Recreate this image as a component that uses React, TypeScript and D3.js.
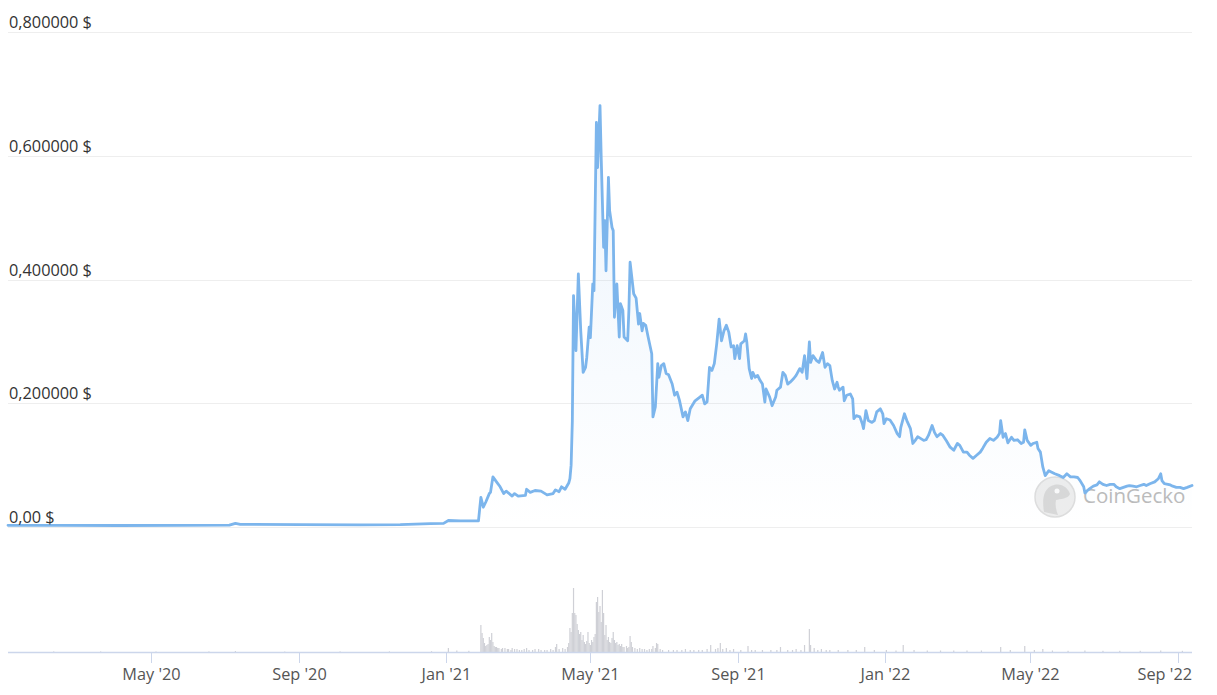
import React from "react";
import * as d3 from "d3";

// ---- Data ----
const priceSeries: [string, number][] = [
  ["2020-01-03", 0.0027], ["2020-02-15", 0.0025], ["2020-04-05", 0.0024], ["2020-05-25", 0.0025],
  ["2020-07-05", 0.0030], ["2020-07-10", 0.0060], ["2020-07-14", 0.0042], ["2020-09-02", 0.0038],
  ["2020-10-22", 0.0035], ["2020-11-24", 0.0040], ["2020-12-19", 0.0055], ["2020-12-30", 0.0058],
  ["2021-01-03", 0.0105], ["2021-01-13", 0.0100], ["2021-01-21", 0.0098], ["2021-01-28", 0.0100],
  ["2021-01-30", 0.048], ["2021-02-01", 0.032], ["2021-02-03", 0.040], ["2021-02-06", 0.054],
  ["2021-02-07", 0.056], ["2021-02-09", 0.081], ["2021-02-12", 0.073], ["2021-02-15", 0.065],
  ["2021-02-18", 0.054], ["2021-02-20", 0.058], ["2021-02-25", 0.050], ["2021-02-27", 0.054],
  ["2021-03-02", 0.050], ["2021-03-08", 0.051], ["2021-03-09", 0.061], ["2021-03-12", 0.056],
  ["2021-03-16", 0.059], ["2021-03-21", 0.058], ["2021-03-26", 0.052], ["2021-03-31", 0.054],
  ["2021-04-02", 0.060], ["2021-04-05", 0.057], ["2021-04-07", 0.065], ["2021-04-10", 0.061],
  ["2021-04-13", 0.071], ["2021-04-14", 0.078], ["2021-04-15", 0.100], ["2021-04-16", 0.170],
  ["2021-04-17", 0.374], ["2021-04-19", 0.285], ["2021-04-21", 0.409], ["2021-04-23", 0.317],
  ["2021-04-25", 0.250], ["2021-04-27", 0.258], ["2021-04-28", 0.274], ["2021-04-30", 0.323],
  ["2021-05-01", 0.306], ["2021-05-03", 0.393], ["2021-05-04", 0.382], ["2021-05-06", 0.654],
  ["2021-05-07", 0.581], ["2021-05-09", 0.681], ["2021-05-10", 0.597], ["2021-05-12", 0.452],
  ["2021-05-13", 0.495], ["2021-05-14", 0.414], ["2021-05-16", 0.565], ["2021-05-17", 0.511],
  ["2021-05-19", 0.484], ["2021-05-20", 0.479], ["2021-05-21", 0.339], ["2021-05-23", 0.393],
  ["2021-05-25", 0.307], ["2021-05-26", 0.361], ["2021-05-28", 0.350], ["2021-05-29", 0.307],
  ["2021-06-01", 0.301], ["2021-06-02", 0.350], ["2021-06-03", 0.428], ["2021-06-06", 0.377],
  ["2021-06-08", 0.370], ["2021-06-10", 0.328], ["2021-06-11", 0.345], ["2021-06-13", 0.317],
  ["2021-06-14", 0.329], ["2021-06-16", 0.326], ["2021-06-18", 0.307], ["2021-06-21", 0.280],
  ["2021-06-22", 0.178], ["2021-06-24", 0.194], ["2021-06-26", 0.264], ["2021-06-27", 0.242],
  ["2021-06-29", 0.261], ["2021-07-01", 0.264], ["2021-07-03", 0.248], ["2021-07-05", 0.246],
  ["2021-07-08", 0.231], ["2021-07-10", 0.213], ["2021-07-12", 0.218], ["2021-07-14", 0.205],
  ["2021-07-17", 0.178], ["2021-07-19", 0.186], ["2021-07-21", 0.172], ["2021-07-23", 0.191],
  ["2021-07-27", 0.204], ["2021-07-31", 0.210], ["2021-08-02", 0.213], ["2021-08-04", 0.199],
  ["2021-08-06", 0.202], ["2021-08-08", 0.258], ["2021-08-10", 0.253], ["2021-08-12", 0.264],
  ["2021-08-14", 0.296], ["2021-08-16", 0.336], ["2021-08-18", 0.301], ["2021-08-20", 0.317],
  ["2021-08-22", 0.326], ["2021-08-24", 0.315], ["2021-08-26", 0.291], ["2021-08-28", 0.293],
  ["2021-08-29", 0.272], ["2021-08-31", 0.293], ["2021-09-02", 0.272], ["2021-09-03", 0.296],
  ["2021-09-06", 0.301], ["2021-09-07", 0.312], ["2021-09-08", 0.299], ["2021-09-10", 0.256],
  ["2021-09-12", 0.240], ["2021-09-13", 0.250], ["2021-09-15", 0.242], ["2021-09-17", 0.245],
  ["2021-09-19", 0.237], ["2021-09-21", 0.231], ["2021-09-23", 0.202], ["2021-09-24", 0.223],
  ["2021-09-27", 0.210], ["2021-09-29", 0.196], ["2021-10-02", 0.210], ["2021-10-03", 0.221],
  ["2021-10-06", 0.226], ["2021-10-08", 0.250], ["2021-10-10", 0.245], ["2021-10-12", 0.231],
  ["2021-10-14", 0.234], ["2021-10-17", 0.240], ["2021-10-19", 0.245], ["2021-10-22", 0.256],
  ["2021-10-24", 0.250], ["2021-10-26", 0.277], ["2021-10-28", 0.240], ["2021-10-30", 0.299],
  ["2021-10-31", 0.266], ["2021-11-02", 0.277], ["2021-11-05", 0.269], ["2021-11-07", 0.266],
  ["2021-11-10", 0.282], ["2021-11-12", 0.258], ["2021-11-14", 0.264], ["2021-11-16", 0.261],
  ["2021-11-18", 0.237], ["2021-11-20", 0.223], ["2021-11-22", 0.234], ["2021-11-23", 0.226],
  ["2021-11-24", 0.221], ["2021-11-27", 0.226], ["2021-11-28", 0.204], ["2021-11-30", 0.213],
  ["2021-12-03", 0.215], ["2021-12-05", 0.207], ["2021-12-06", 0.175], ["2021-12-08", 0.180],
  ["2021-12-11", 0.178], ["2021-12-13", 0.167], ["2021-12-14", 0.159], ["2021-12-16", 0.188],
  ["2021-12-18", 0.172], ["2021-12-21", 0.169], ["2021-12-23", 0.172], ["2021-12-25", 0.186],
  ["2021-12-28", 0.191], ["2021-12-30", 0.183], ["2021-12-31", 0.167], ["2022-01-02", 0.175],
  ["2022-01-05", 0.173], ["2022-01-08", 0.164], ["2022-01-11", 0.151], ["2022-01-13", 0.146],
  ["2022-01-14", 0.161], ["2022-01-17", 0.183], ["2022-01-19", 0.172], ["2022-01-22", 0.159],
  ["2022-01-24", 0.135], ["2022-01-26", 0.140], ["2022-01-28", 0.146], ["2022-02-02", 0.140],
  ["2022-02-04", 0.141], ["2022-02-06", 0.148], ["2022-02-09", 0.164], ["2022-02-11", 0.153],
  ["2022-02-13", 0.146], ["2022-02-16", 0.151], ["2022-02-18", 0.148], ["2022-02-21", 0.139],
  ["2022-02-24", 0.129], ["2022-02-27", 0.124], ["2022-03-02", 0.135], ["2022-03-04", 0.132],
  ["2022-03-07", 0.121], ["2022-03-10", 0.121], ["2022-03-12", 0.116], ["2022-03-15", 0.111],
  ["2022-03-18", 0.116], ["2022-03-21", 0.121], ["2022-03-23", 0.127], ["2022-03-26", 0.137],
  ["2022-03-29", 0.143], ["2022-04-01", 0.140], ["2022-04-04", 0.145], ["2022-04-06", 0.151],
  ["2022-04-07", 0.172], ["2022-04-09", 0.145], ["2022-04-11", 0.151], ["2022-04-13", 0.136],
  ["2022-04-16", 0.145], ["2022-04-18", 0.140], ["2022-04-21", 0.141], ["2022-04-24", 0.135],
  ["2022-04-26", 0.137], ["2022-04-27", 0.157], ["2022-04-29", 0.140], ["2022-05-02", 0.132],
  ["2022-05-04", 0.135], ["2022-05-07", 0.137], ["2022-05-08", 0.127], ["2022-05-10", 0.121],
  ["2022-05-12", 0.097], ["2022-05-14", 0.083], ["2022-05-17", 0.091], ["2022-05-19", 0.089],
  ["2022-05-22", 0.086], ["2022-05-26", 0.083], ["2022-05-29", 0.080], ["2022-06-01", 0.086],
  ["2022-06-04", 0.081], ["2022-06-07", 0.081], ["2022-06-10", 0.080], ["2022-06-12", 0.075],
  ["2022-06-15", 0.065], ["2022-06-16", 0.055], ["2022-06-18", 0.059], ["2022-06-20", 0.062],
  ["2022-06-23", 0.066], ["2022-06-26", 0.068], ["2022-06-28", 0.073], ["2022-07-01", 0.069],
  ["2022-07-04", 0.067], ["2022-07-07", 0.069], ["2022-07-10", 0.069], ["2022-07-12", 0.065],
  ["2022-07-15", 0.062], ["2022-07-18", 0.064], ["2022-07-21", 0.066], ["2022-07-23", 0.067],
  ["2022-07-26", 0.066], ["2022-07-29", 0.065], ["2022-08-01", 0.067], ["2022-08-04", 0.069],
  ["2022-08-06", 0.067], ["2022-08-09", 0.070], ["2022-08-13", 0.073], ["2022-08-16", 0.078],
  ["2022-08-18", 0.086], ["2022-08-19", 0.075], ["2022-08-21", 0.070], ["2022-08-24", 0.069],
  ["2022-08-26", 0.068], ["2022-08-28", 0.066], ["2022-08-31", 0.064], ["2022-09-03", 0.064],
  ["2022-09-06", 0.062], ["2022-09-09", 0.064], ["2022-09-13", 0.067],
];

// daily volume (arbitrary units, millions)
const volumeSeries: [string, number][] = [
  ["2020-02-10", 0.6], ["2020-03-20", 0.6], ["2020-05-05", 0.5], ["2020-06-18", 0.6],
  ["2020-07-10", 1.0], ["2020-08-20", 0.5], ["2020-10-05", 0.6], ["2020-11-15", 0.6],
  ["2020-12-20", 0.8], ["2021-01-03", 4], ["2021-01-10", 1.5], ["2021-01-20", 1.2],
  ["2021-01-30", 27], ["2021-01-31", 19], ["2021-02-01", 14], ["2021-02-02", 9],
  ["2021-02-03", 6], ["2021-02-04", 7], ["2021-02-05", 8], ["2021-02-06", 15],
  ["2021-02-07", 12], ["2021-02-08", 19], ["2021-02-09", 10], ["2021-02-10", 6],
  ["2021-02-11", 5], ["2021-02-12", 5], ["2021-02-13", 4], ["2021-02-14", 4],
  ["2021-02-16", 3], ["2021-02-17", 4], ["2021-02-19", 4], ["2021-02-21", 3],
  ["2021-02-22", 3], ["2021-02-24", 2], ["2021-02-25", 4], ["2021-02-27", 3],
  ["2021-03-01", 3], ["2021-03-03", 2], ["2021-03-05", 2], ["2021-03-07", 3],
  ["2021-03-09", 4], ["2021-03-11", 2], ["2021-03-14", 2], ["2021-03-16", 3],
  ["2021-03-19", 3], ["2021-03-21", 2], ["2021-03-24", 2], ["2021-03-26", 2],
  ["2021-03-29", 3], ["2021-03-31", 2], ["2021-04-02", 5], ["2021-04-03", 8],
  ["2021-04-05", 3], ["2021-04-08", 4], ["2021-04-10", 3], ["2021-04-12", 5],
  ["2021-04-13", 9], ["2021-04-14", 24], ["2021-04-15", 20], ["2021-04-16", 39],
  ["2021-04-17", 64], ["2021-04-18", 39], ["2021-04-19", 37], ["2021-04-20", 28],
  ["2021-04-21", 22], ["2021-04-22", 18], ["2021-04-23", 20], ["2021-04-24", 12],
  ["2021-04-25", 17], ["2021-04-26", 10], ["2021-04-27", 8], ["2021-04-28", 11],
  ["2021-04-29", 20], ["2021-04-30", 9], ["2021-05-01", 7], ["2021-05-02", 12],
  ["2021-05-03", 10], ["2021-05-04", 15], ["2021-05-05", 18], ["2021-05-06", 50],
  ["2021-05-07", 55], ["2021-05-08", 40], ["2021-05-09", 46], ["2021-05-10", 30],
  ["2021-05-11", 62], ["2021-05-12", 39], ["2021-05-13", 17], ["2021-05-14", 27],
  ["2021-05-15", 12], ["2021-05-16", 15], ["2021-05-17", 10], ["2021-05-18", 9],
  ["2021-05-19", 14], ["2021-05-20", 20], ["2021-05-21", 12], ["2021-05-22", 9],
  ["2021-05-23", 10], ["2021-05-24", 7], ["2021-05-25", 8], ["2021-05-26", 6],
  ["2021-05-27", 8], ["2021-05-28", 5], ["2021-05-29", 5], ["2021-05-31", 6],
  ["2021-06-01", 4], ["2021-06-02", 5], ["2021-06-03", 16], ["2021-06-04", 10],
  ["2021-06-05", 5], ["2021-06-07", 4], ["2021-06-09", 3], ["2021-06-11", 4],
  ["2021-06-13", 3], ["2021-06-15", 3], ["2021-06-17", 2], ["2021-06-19", 3],
  ["2021-06-21", 3], ["2021-06-22", 6], ["2021-06-24", 4], ["2021-06-25", 9],
  ["2021-06-26", 8], ["2021-06-28", 3], ["2021-06-30", 2], ["2021-07-05", 2],
  ["2021-07-09", 2], ["2021-07-12", 2], ["2021-07-16", 2], ["2021-07-19", 3],
  ["2021-07-23", 2], ["2021-07-26", 2], ["2021-07-30", 2], ["2021-08-02", 2],
  ["2021-08-06", 3], ["2021-08-09", 7], ["2021-08-13", 3], ["2021-08-15", 4],
  ["2021-08-17", 9], ["2021-08-19", 3], ["2021-08-22", 4], ["2021-08-25", 2],
  ["2021-08-28", 3], ["2021-09-03", 2], ["2021-09-09", 6], ["2021-09-12", 2],
  ["2021-09-15", 2], ["2021-09-21", 2], ["2021-09-28", 2], ["2021-10-03", 2],
  ["2021-10-06", 5], ["2021-10-12", 2], ["2021-10-16", 2], ["2021-10-19", 3],
  ["2021-10-23", 2], ["2021-10-26", 7], ["2021-10-30", 23], ["2021-10-31", 7],
  ["2021-11-03", 4], ["2021-11-06", 2], ["2021-11-09", 3], ["2021-11-13", 2],
  ["2021-11-16", 2], ["2021-11-23", 2], ["2021-12-01", 2], ["2021-12-08", 2],
  ["2021-12-15", 5], ["2021-12-23", 2], ["2022-01-02", 2], ["2022-01-10", 1.5],
  ["2022-01-16", 7], ["2022-01-25", 2], ["2022-02-05", 1.5], ["2022-02-16", 1.5],
  ["2022-02-27", 1.5], ["2022-03-10", 1.5], ["2022-03-22", 1.5], ["2022-04-07", 5],
  ["2022-04-15", 2], ["2022-04-27", 6], ["2022-05-05", 2], ["2022-05-12", 3],
  ["2022-05-20", 1.5], ["2022-06-02", 1.2], ["2022-06-16", 1.5], ["2022-07-01", 1.2],
  ["2022-07-15", 1.2], ["2022-08-01", 1.2], ["2022-08-18", 1.5], ["2022-09-05", 1.2],
];

const dateDomain: [string, string] = ["2020-01-03", "2022-09-13"];
const priceTicks = [0, 0.2, 0.4, 0.6, 0.8];
const priceTickLabels = ["0,00 $", "0,200000 $", "0,400000 $", "0,600000 $", "0,800000 $"];
const monthNames = ["Jan", "Feb", "Mar", "Apr", "May", "Jun", "Jul", "Aug", "Sep", "Oct", "Nov", "Dec"];

// ---- Layout ----
const W = 1217;
const H = 695;
const LEFT = 8;
const RIGHT = 1192;
const PRICE_TOP = 32;
const PRICE_BOTTOM = 527;
const VOL_BOTTOM = 652;
const VOL_TOP = 582;
const FONT = "'Open Sans', 'Noto Sans', sans-serif";

const parse = d3.utcParse("%Y-%m-%d");

export default function App() {
  const x = d3.scaleUtc()
    .domain(dateDomain.map((s) => parse(s) as Date))
    .range([LEFT, RIGHT]);
  const y = d3.scaleLinear().domain([0, 0.8]).range([PRICE_BOTTOM, PRICE_TOP]);
  const yv = d3.scaleLinear().domain([0, 70]).range([VOL_BOTTOM, VOL_TOP]);

  const pts = priceSeries.map(([d, v]) => ({ date: parse(d) as Date, v }));
  const line = d3.line<{ date: Date; v: number }>()
    .x((d) => x(d.date))
    .y((d) => y(d.v))
    .curve(d3.curveLinear);
  const area = d3.area<{ date: Date; v: number }>()
    .x((d) => x(d.date))
    .y0(y(0))
    .y1((d) => y(d.v))
    .curve(d3.curveLinear);

  const dayW = x(parse("2020-01-04") as Date) - x(parse("2020-01-03") as Date);
  const barW = Math.max(1, dayW);

  const xTicks = x.ticks(d3.utcMonth.every(4) as d3.TimeInterval);
  const fmt = (d: Date) => `${monthNames[d.getUTCMonth()]} '${String(d.getUTCFullYear()).slice(2)}`;

  return (
    <svg
      width={W}
      height={H}
      viewBox={`0 0 ${W} ${H}`}
      style={{ position: "absolute", left: 0, top: 0, background: "#fff" }}
      fontFamily={FONT}
    >
      <defs>
        <linearGradient id="areaGrad" x1="0" y1="0" x2="0" y2="1">
          <stop offset="0%" stopColor="#7cb5ec" stopOpacity={0.15} />
          <stop offset="100%" stopColor="#7cb5ec" stopOpacity={0.0} />
        </linearGradient>
      </defs>

      {/* grid lines */}
      {priceTicks.map((t) => (
        <line key={`g${t}`} x1={LEFT} x2={RIGHT} y1={Math.round(y(t)) + 0.5} y2={Math.round(y(t)) + 0.5}
          stroke="#eeeeee" strokeWidth={1} />
      ))}

      {/* watermark */}
      <g opacity={0.85}>
        <circle cx={1055} cy={497} r={20} fill="#eaeaea" stroke="#d8d8d8" strokeWidth={1.5} />
        <path d="M1044,512 C1042,500 1043,488 1054,485 C1062,483 1068,488 1070,494 C1068,499 1060,499 1056,500 C1055,505 1056,510 1058,515 Z"
          fill="#d2d2d2" />
        <circle cx={1057} cy={491} r={2.5} fill="#fafafa" />
        <text x={1083} y={503} fontSize={20.5} fill="#b0b0b0" fontFamily={FONT}>CoinGecko</text>
      </g>

      {/* area + line */}
      <path d={area(pts) ?? ""} fill="url(#areaGrad)" />
      <path d={line(pts) ?? ""} fill="none" stroke="#7cb5ec" strokeWidth={2.8} strokeLinejoin="round" strokeLinecap="round" />

      {/* y labels */}
      {priceTicks.map((t, i) => (
        <text key={`yl${t}`} x={LEFT + 1} y={y(t) - 4} fontSize={16.3} fill="#333">
          {priceTickLabels[i]}
        </text>
      ))}

      {/* volume bars */}
      {volumeSeries.map(([d, v]) => {
        const cx = x(parse(d) as Date);
        return (
          <rect key={`v${d}`} x={cx - barW / 2} y={yv(v)} width={barW} height={yv(0) - yv(v)} fill="#cfd0d6" />
        );
      })}

      {/* x axis */}
      <line x1={LEFT} x2={RIGHT} y1={VOL_BOTTOM + 0.5} y2={VOL_BOTTOM + 0.5} stroke="#ccd6eb" strokeWidth={1.5} />
      {xTicks.map((t) => {
        const tx = Math.round(x(t)) + 0.5;
        const label = fmt(t);
        const overflow = tx + 28 > RIGHT;
        return (
          <g key={`xt${t.toISOString()}`}>
            <line x1={tx} x2={tx} y1={VOL_BOTTOM} y2={VOL_BOTTOM + 11} stroke="#ccd6eb" strokeWidth={1} />
            <text x={overflow ? RIGHT : tx} y={680} fontSize={16.3} fill="#555"
              textAnchor={overflow ? "end" : "middle"}>
              {label}
            </text>
          </g>
        );
      })}
    </svg>
  );
}
